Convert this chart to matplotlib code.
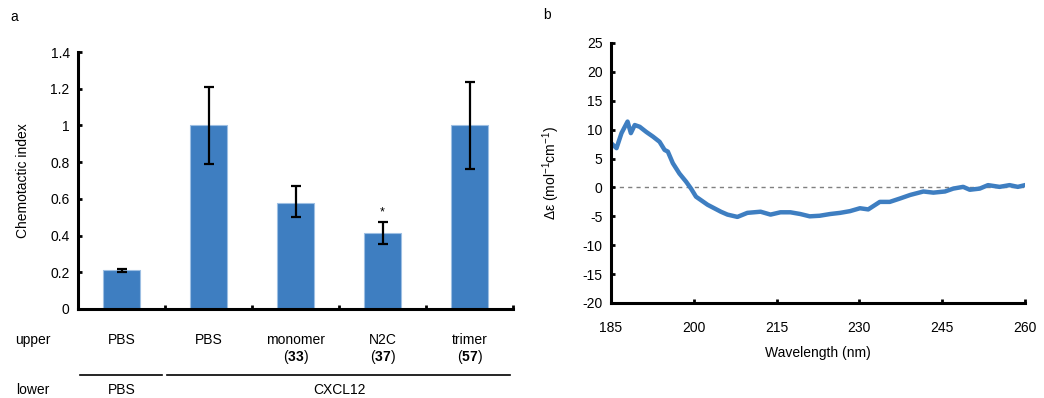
import matplotlib
matplotlib.use("Agg")
import matplotlib.pyplot as plt
import matplotlib.transforms as mtransforms
import numpy as np

plt.rcParams['font.family'] = ['Liberation Sans', 'DejaVu Sans']
plt.rcParams['mathtext.fontset'] = 'custom'
plt.rcParams['mathtext.rm'] = 'Liberation Sans'
plt.rcParams['mathtext.bf'] = 'Liberation Sans:bold'
plt.rcParams['mathtext.default'] = 'regular'
plt.rcParams['axes.unicode_minus'] = False

# ---------------- data: panel a ----------------
upper_labels = ["PBS", "PBS", "monomer", "N2C", "trimer"]
upper_numbers = ["", "", "33", "37", "57"]
chemotactic_index = [0.21, 1.0, 0.58, 0.415, 1.0]
err_upper = [0.008, 0.21, 0.09, 0.06, 0.235]
err_lower = [0.008, 0.21, 0.08, 0.06, 0.235]
significant = [False, False, False, True, False]
lower_groups = ["PBS", "CXCL12"]
lower_group_spans = [(0, 0), (1, 4)]

# ---------------- data: panel b ----------------
wavelength = [185.1, 186.0, 186.9, 188.0, 188.6, 189.3, 190.2, 191.4, 192.6, 193.8,
              194.7, 195.3, 196.2, 197.4, 198.6, 199.5, 200.4, 201.3, 202.5, 203.7,
              204.9, 206.1, 207.9, 209.7, 212.1, 213.9, 215.7, 217.5, 219.3, 221.0,
              222.8, 224.7, 226.5, 228.3, 230.1, 231.6, 233.7, 235.5, 237.4, 239.2,
              241.6, 243.4, 245.5, 247.0, 248.8, 250.0, 251.8, 253.3, 255.4, 257.2,
              258.7, 260.0]
delta_eps = [7.6, 6.8, 9.4, 11.4, 9.4, 10.8, 10.5, 9.6, 8.8, 7.9,
             6.5, 6.2, 4.2, 2.4, 1.0, -0.2, -1.6, -2.2, -3.0, -3.6,
             -4.2, -4.7, -5.1, -4.4, -4.2, -4.7, -4.3, -4.3, -4.6, -5.0,
             -4.9, -4.6, -4.4, -4.1, -3.6, -3.8, -2.5, -2.5, -1.9, -1.3,
             -0.7, -0.9, -0.7, -0.2, 0.1, -0.4, -0.2, 0.4, 0.1, 0.4,
             0.1, 0.4]

BLUE = '#3E7EC1'
W, H = 1044, 398
fig = plt.figure(figsize=(W / 100, H / 100), dpi=100)

def px_axes(l, r, t, b):
    return fig.add_axes([l / W, 1 - b / H, (r - l) / W, (b - t) / H])

# ---------------- panel a ----------------
ax = px_axes(78, 513, 52, 309)
x = np.arange(len(chemotactic_index))
ax.bar(x, chemotactic_index, width=0.42, color=BLUE, edgecolor='#9DBFE3', linewidth=0.8, zorder=2)
ax.errorbar(x, chemotactic_index, yerr=[err_lower, err_upper], fmt='none',
            ecolor='black', elinewidth=1.6, capsize=3.5, capthick=1.6, zorder=3)
for xi, v, e, s in zip(x, chemotactic_index, err_upper, significant):
    if s:
        ax.text(xi, v + e + 0.02, '*', ha='center', va='bottom', fontsize=9)
ax.set_xlim(-0.5, len(x) - 0.5)
ax.set_ylim(0, 1.4)
ax.set_yticks(np.arange(0, 1.41, 0.2))
ax.set_yticklabels(['0', '0.2', '0.4', '0.6', '0.8', '1', '1.2', '1.4'])
ax.set_xticks(np.arange(-0.5, len(x)), minor=False)
ax.set_xticklabels([])
for sp in ['top', 'right']:
    ax.spines[sp].set_visible(False)
for sp in ['left', 'bottom']:
    ax.spines[sp].set_linewidth(2.2)
ax.tick_params(axis='both', direction='in', length=3, width=2, labelsize=10, pad=6)
ax.tick_params(axis='x', pad=0)
ax.set_ylabel('Chemotactic index', fontsize=10)
ax.yaxis.set_label_coords(-0.11, 0.5)

trans = mtransforms.blended_transform_factory(ax.transData, ax.transAxes)
for xi, lab, num in zip(x, upper_labels, upper_numbers):
    ax.text(xi, -0.12, lab, transform=trans, ha='center', va='center', fontsize=10)
    if num:
        ax.text(xi, -0.187, r'($\mathbf{%s}$)' % num, transform=trans,
                ha='center', va='center', fontsize=10)
ax.text(-0.103, -0.12, 'upper', transform=ax.transAxes, ha='center', va='center', fontsize=10)
ax.text(-0.103, -0.315, 'lower', transform=ax.transAxes, ha='center', va='center', fontsize=10)
for name, (a0, a1) in zip(lower_groups, lower_group_spans):
    ax.plot([a0 - 0.477, a1 + 0.466], [-0.257, -0.257], transform=trans,
            color='black', lw=1.2, clip_on=False)
    ax.text((a0 + a1) / 2, -0.315, name, transform=trans, ha='center', va='center', fontsize=10)

# ---------------- panel b ----------------
bx = px_axes(611, 1025, 43, 303)
bx.axhline(0, color='#808080', lw=1.0, ls=(0, (3, 3)), zorder=1)
bx.plot(wavelength, delta_eps, color=BLUE, lw=3.2, zorder=2, solid_joinstyle='round')
bx.set_xlim(185, 260)
bx.set_ylim(-20, 25)
bx.set_xticks(np.arange(185, 261, 15))
bx.set_yticks(np.arange(-20, 26, 5))
for sp in ['top', 'right']:
    bx.spines[sp].set_visible(False)
for sp in ['left', 'bottom']:
    bx.spines[sp].set_linewidth(2.2)
bx.tick_params(axis='both', direction='in', length=3, width=2, labelsize=10)
bx.tick_params(axis='x', pad=13)
bx.tick_params(axis='y', pad=6)
bx.set_xlabel('Wavelength (nm)', fontsize=10, labelpad=8)
bx.set_ylabel(r'Δε (mol$^{-1}$cm$^{-1}$)', fontsize=10)
bx.yaxis.set_label_coords(-0.118, 0.5)

fig.text(10 / W, 1 - 17 / H, 'a', fontsize=10, ha='left', va='center')
fig.text(543 / W, 1 - 15 / H, 'b', fontsize=10, ha='left', va='center')

fig.savefig('out.png', dpi=100)
